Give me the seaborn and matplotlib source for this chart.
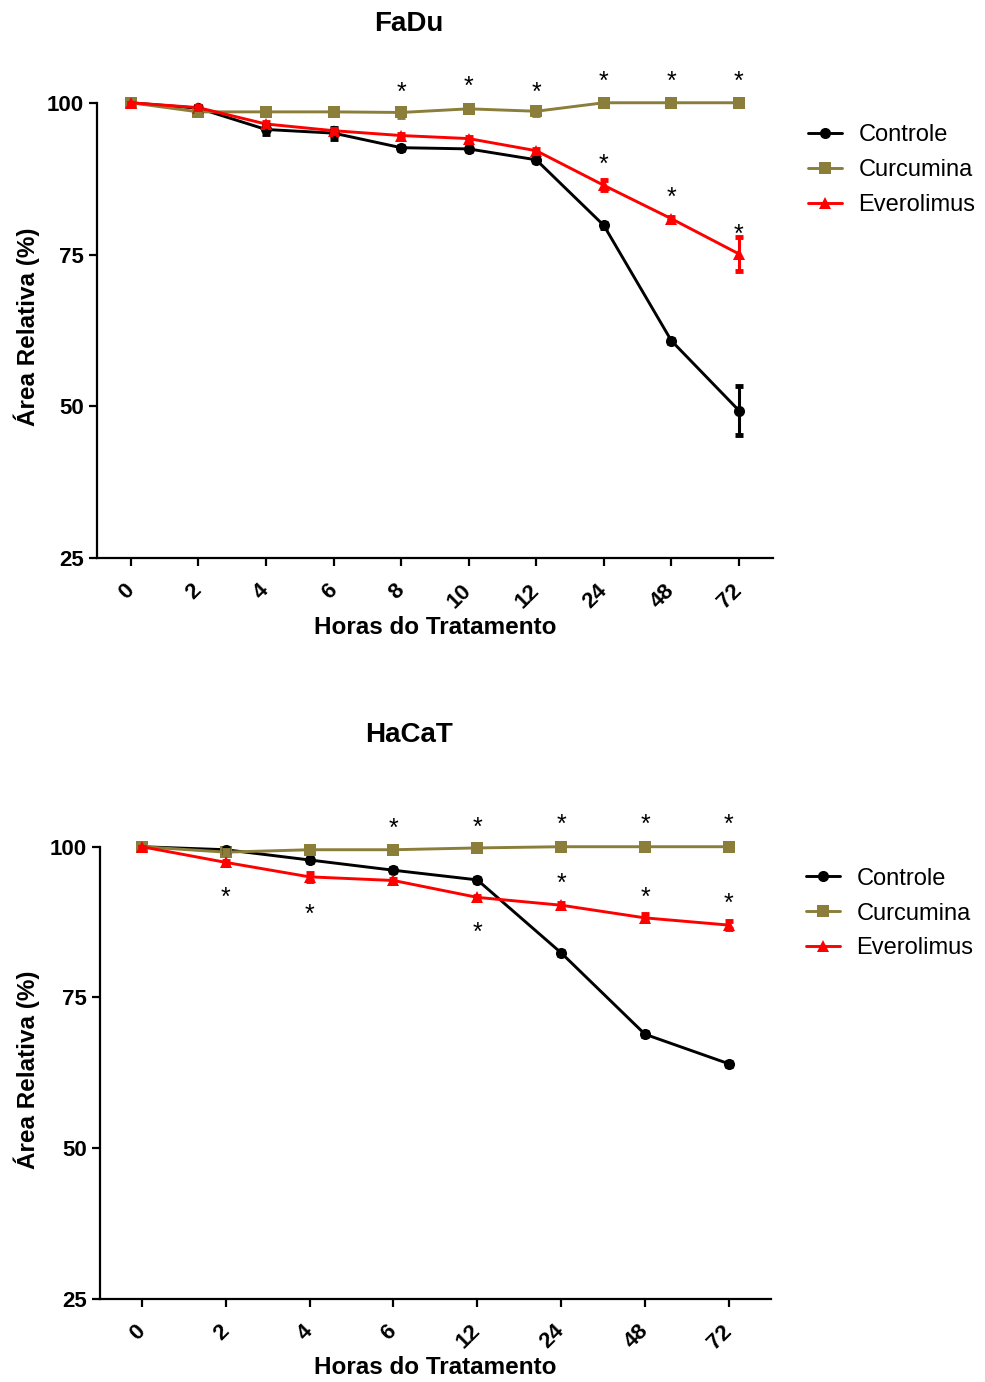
import matplotlib
matplotlib.use("Agg")
import matplotlib.pyplot as plt
import pandas as pd
import seaborn as sns

# ---- dados ----
grupos = ["Controle", "Curcumina", "Everolimus"]

horas_fadu = ["0", "2", "4", "6", "8", "10", "12", "24", "48", "72"]
fadu_controle = [100, 99.1, 95.6, 95.0, 92.6, 92.4, 90.6, 79.8, 60.8, 49.3]
fadu_curcumina = [100, 98.5, 98.5, 98.5, 98.4, 99.0, 98.6, 100, 100, 100]
fadu_everolimus = [100, 99.2, 96.5, 95.4, 94.6, 94.1, 92.1, 86.4, 80.9, 75.1]
fadu_controle_ep = [0, 0.3, 0.7, 0.9, 0.3, 0.3, 0.3, 0.4, 0.3, 4.0]
fadu_curcumina_ep = [0, 0.2, 0.2, 0.2, 0.8, 0.2, 0.6, 0.2, 0.2, 0.2]
fadu_everolimus_ep = [0, 0.2, 0.3, 0.3, 0.3, 0.3, 0.3, 0.8, 0.3, 2.8]
# asteriscos (posicao no eixo y, em %)
fadu_ast_curc_x = ["8", "10", "12", "24", "48", "72"]
fadu_ast_curc_y = [102.5, 103.6, 102.5, 104.3, 104.3, 104.3]
fadu_ast_ever_x = ["24", "48", "72"]
fadu_ast_ever_y = [90.6, 85.2, 79.2]

horas_hacat = ["0", "2", "4", "6", "12", "24", "48", "72"]
hacat_controle = [100, 99.5, 97.8, 96.1, 94.5, 82.4, 68.9, 64.0]
hacat_curcumina = [100, 99.1, 99.5, 99.5, 99.8, 100, 100, 100]
hacat_everolimus = [100, 97.4, 95.0, 94.4, 91.6, 90.3, 88.2, 87.0]
hacat_controle_ep = [0, 0.3, 0.3, 0.3, 0.3, 0.3, 0.3, 0.3]
hacat_curcumina_ep = [0, 0.3, 0.3, 0.3, 0.3, 0.2, 0.2, 0.2]
hacat_everolimus_ep = [0, 0.3, 0.7, 0.3, 0.3, 0.3, 0.6, 0.6]
hacat_ast_curc_x = ["6", "12", "24", "48", "72"]
hacat_ast_curc_y = [103.8, 104.1, 104.5, 104.5, 104.5]
hacat_ast_ever_x = ["2", "4", "12", "24", "48", "72"]
hacat_ast_ever_y = [92.5, 89.6, 86.6, 94.7, 92.4, 91.4]

cores = {"Controle": "#000000", "Curcumina": "#8b7d3a", "Everolimus": "#ff0000"}
marcadores = {"Controle": "o", "Curcumina": "s", "Everolimus": "^"}

sns.set_style("ticks")
plt.rcParams["font.family"] = ["Liberation Sans", "DejaVu Sans"]
plt.rcParams["axes.linewidth"] = 1.6
for k in ["text.color", "axes.labelcolor", "axes.edgecolor", "xtick.color", "ytick.color"]:
    plt.rcParams[k] = "black"


def painel(ax, titulo, horas, medias, erros, ast_curc, ast_ever, pos):
    frames = []
    for g, m in zip(grupos, medias):
        frames.append(pd.DataFrame({"hora": horas, "area": m, "grupo": g}))
    df = pd.concat(frames, ignore_index=True)

    sns.lineplot(data=df, x="hora", y="area", hue="grupo", style="grupo",
                 palette=cores, markers=marcadores, dashes=False, sort=False,
                 linewidth=2.1, markersize=8, markeredgewidth=0, ax=ax)

    for g, m, e in zip(grupos, medias, erros):
        ax.errorbar(horas, m, yerr=e, fmt="none", ecolor=cores[g],
                    elinewidth=2.2, capsize=3, capthick=3.5, zorder=3)

    for xs, ys in (ast_curc, ast_ever):
        for h, yv in zip(xs, ys):
            ax.annotate("*", xy=(h, yv), xytext=(0, -9), textcoords="offset points",
                        ha="center", va="baseline", fontsize=18)

    ax.set_xlim(-0.5, len(horas) - 0.5)
    ax.set_ylim(25, 106)
    ax.set_yticks([25, 50, 75, 100])
    ax.spines["left"].set_bounds(25, 100)
    sns.despine(ax=ax)
    ax.tick_params(axis="both", direction="out", length=6, width=1.6,
                   labelsize=16)
    ax.tick_params(axis="x", pad=15)
    for lbl in ax.get_yticklabels():
        lbl.set_fontweight("bold")
    for lbl in ax.get_xticklabels():
        lbl.set_fontweight("bold")
        lbl.set_rotation(45)
        lbl.set_ha("right")
        lbl.set_va("center")
        lbl.set_rotation_mode("anchor")

    ax.set_xlabel("Horas do Tratamento", fontsize=17.5, fontweight="bold", va="center")
    ax.set_ylabel("Área Relativa (%)", fontsize=17.5, fontweight="bold", va="center")
    ax.xaxis.set_label_coords(0.5, pos["xl"])
    ax.yaxis.set_label_coords(pos["yl_x"], 0.47)
    ax.set_title(titulo, fontsize=20, fontweight="bold", x=pos["tx"], y=pos["ty"],
                 va="center")

    handles, labels = ax.get_legend_handles_labels()
    ax.legend(handles, labels, loc="center left", bbox_to_anchor=pos["leg"],
              bbox_transform=ax.figure.transFigure, frameon=False, fontsize=17,
              handlelength=1.45, handletextpad=0.7, labelspacing=0.55,
              borderpad=0, borderaxespad=0)


fig = plt.figure(figsize=(9.85, 13.82), dpi=100)
ax1 = fig.add_axes([0.0985, 0.5962, 0.686, 0.3558])
ax2 = fig.add_axes([0.1015, 0.0601, 0.681, 0.3534])

painel(ax1, "FaDu", horas_fadu,
       [fadu_controle, fadu_curcumina, fadu_everolimus],
       [fadu_controle_ep, fadu_curcumina_ep, fadu_everolimus_ep],
       (fadu_ast_curc_x, fadu_ast_curc_y), (fadu_ast_ever_x, fadu_ast_ever_y),
       {"xl": -0.142, "yl_x": -0.104, "tx": 0.4615, "ty": 1.07,
        "leg": (0.82, 0.877)})

painel(ax2, "HaCaT", horas_hacat,
       [hacat_controle, hacat_curcumina, hacat_everolimus],
       [hacat_controle_ep, hacat_curcumina_ep, hacat_everolimus_ep],
       (hacat_ast_curc_x, hacat_ast_curc_y), (hacat_ast_ever_x, hacat_ast_ever_y),
       {"xl": -0.141, "yl_x": -0.109, "tx": 0.46, "ty": 1.137,
        "leg": (0.818, 0.339)})

fig.savefig("out.png", dpi=100)
